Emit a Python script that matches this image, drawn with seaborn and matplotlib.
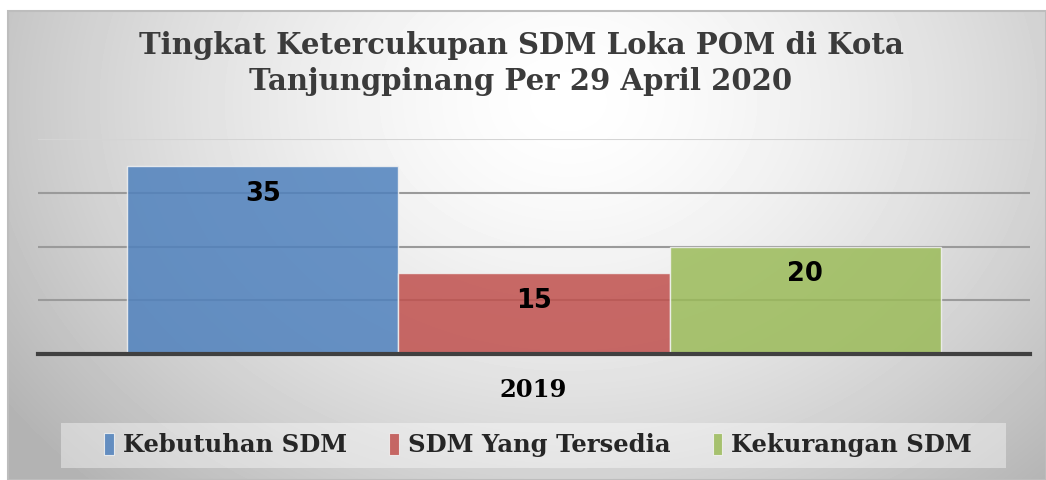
import numpy as np
import pandas as pd
import matplotlib
matplotlib.use("Agg")
import matplotlib.pyplot as plt
import seaborn as sns
from matplotlib.patches import Patch, Rectangle

# data
years = ["2019"]
categories = ["Kebutuhan SDM", "SDM Yang Tersedia", "Kekurangan SDM"]
values = [35, 15, 20]
palette = ["#4F81BD", "#C0504D", "#9BBB59"]

df = pd.DataFrame({"tahun": years * len(categories), "kategori": categories, "jumlah": values})

sns.set_style("white")
W, H = 1046, 480
fig = plt.figure(figsize=(W / 100, H / 100), dpi=100)
fig.patch.set_facecolor("white")

# radial grey background like the office chart area
bg = fig.add_axes([8 / W, 0, 1 - 8 / W, 1 - 11 / H], zorder=-5)
yy, xx = np.mgrid[0:469, 0:1038]
r = np.sqrt(((xx - 560) / 600.0) ** 2 + ((yy - 90) / 470.0) ** 2)
shade = 255 - 62 * np.clip(r, 0, 1.15) ** 1.5
bg.imshow(shade, cmap="gray", vmin=0, vmax=255, aspect="auto", interpolation="bilinear")
bg.set_axis_off()
fig.add_artist(Rectangle((8 / W, 0), 1 - 8 / W, 1 - 11 / H, transform=fig.transFigure,
                         fill=False, edgecolor="#bdbdbd", lw=1.5, zorder=-4))

ax = fig.add_axes([38 / W, 1 - 354 / H, (1030 - 38) / W, (354 - 139) / H])
ax.set_facecolor("none")
sns.barplot(data=df, x="tahun", y="jumlah", hue="kategori", palette=palette, width=0.82,
            gap=0, saturation=1, alpha=0.85, edgecolor="#f2f2f2", linewidth=1,
            legend=False, ax=ax, zorder=3)

ax.set_ylim(0, 40)
ax.set_xlim(-0.5, 0.5)
ax.set_yticks([10, 20, 30, 40])
ax.set_yticklabels([])
ax.tick_params(length=0)
ax.set_xticks([])
ax.set_xlabel("")
ax.set_ylabel("")
ax.grid(axis="y", color="#9a9a9a", lw=1.5, zorder=0)
ax.set_axisbelow(True)
ax.yaxis.get_gridlines()[-1].set_color("#d4d4d4")
for s in ["top", "right", "left"]:
    ax.spines[s].set_visible(False)
ax.spines["bottom"].set_color("#404040")
ax.spines["bottom"].set_linewidth(3)
ax.spines["bottom"].set_zorder(5)

for bar in ax.patches:
    h = bar.get_height()
    ax.annotate(f"{h:.0f}", (bar.get_x() + bar.get_width() / 2, h), xytext=(0, -20),
                textcoords="offset points", ha="center", va="center",
                fontsize=18.5, fontweight="bold", family="DejaVu Sans", color="black", zorder=6)

serif = ["DejaVu Serif"]
fig.text(521 / W, 1 - 45 / H, "Tingkat Ketercukupan SDM Loka POM di Kota", ha="center", va="center",
         fontsize=21, fontweight="heavy", family=serif, color="#3b3b3b")
fig.text(521 / W, 1 - 82 / H, "Tanjungpinang Per 29 April 2020", ha="center", va="center",
         fontsize=21, fontweight="heavy", family=serif, color="#3b3b3b")
fig.text(533 / W, 1 - 390 / H, years[0], ha="center", va="center",
         fontsize=17.5, fontweight="heavy", family=serif, color="black")

fig.add_artist(Rectangle((61 / W, 1 - 468 / H), (1006 - 61) / W, 45 / H, transform=fig.transFigure,
                         facecolor="white", edgecolor="none", alpha=0.4, zorder=1))
handles = [Patch(facecolor=c, alpha=0.85, edgecolor="#f2f2f2", lw=0.8) for c in palette]
leg = fig.legend(handles, categories, loc="center", bbox_to_anchor=(538 / W, 1 - 445 / H), ncol=3,
                 frameon=False, handlelength=0.4, handleheight=1.0, handletextpad=0.35,
                 columnspacing=1.75, prop={"family": serif, "weight": "heavy", "size": 17.5})
leg.set_zorder(2)

fig.savefig("out.png", dpi=100)
